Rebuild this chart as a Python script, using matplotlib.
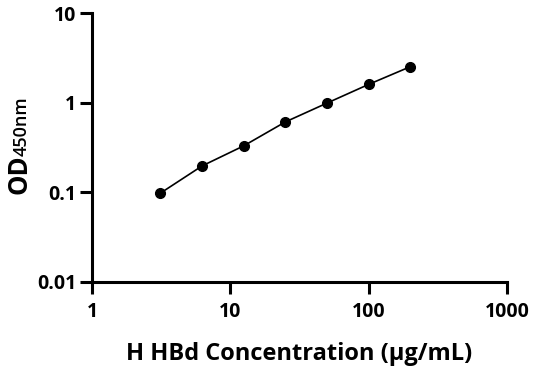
import matplotlib
matplotlib.use("Agg")
import matplotlib.pyplot as plt

# standard curve data
conc = [3.125, 6.25, 12.5, 25, 50, 100, 200]
od = [0.098, 0.197, 0.33, 0.61, 0.99, 1.6, 2.52]
x_ticks = [1, 10, 100, 1000]
y_ticks = [0.01, 0.1, 1, 10]
y_labels = ["0.01", "0.1", "1", "10"]

plt.rcParams["font.family"] = ["Open Sans", "DejaVu Sans"]
plt.rcParams["font.weight"] = "bold"

fig = plt.figure(figsize=(5.36, 3.71), dpi=100)
ax = fig.add_axes([0.1716, 0.2399, 0.7743, 0.725])

ax.plot(conc, od, color="black", lw=1.2, zorder=2)
ax.plot(conc, od, "o", color="black", ms=7, zorder=3, clip_on=False)

ax.set_xscale("log")
ax.set_yscale("log")
ax.set_xlim(1, 1000)
ax.set_ylim(0.01, 10)
ax.set_xticks(x_ticks)
ax.set_xticklabels([str(t) for t in x_ticks])
ax.set_yticks(y_ticks)
ax.set_yticklabels(y_labels)
ax.minorticks_off()

for s in ["top", "right"]:
    ax.spines[s].set_visible(False)
for s in ["left", "bottom"]:
    ax.spines[s].set_linewidth(2.2)
ax.tick_params(axis="both", length=8.5, width=2.2, labelsize=14)
ax.tick_params(axis="x", pad=6)
ax.tick_params(axis="y", pad=3)
for lab in ax.get_xticklabels() + ax.get_yticklabels():
    lab.set_fontweight("bold")

ax.set_xlabel("H HBd Concentration (μg/mL)", fontsize=17, fontweight="bold", labelpad=14)

# y label: "OD" bold plus a smaller "450nm"
od_txt = fig.text(0.049, 0.478, "OD", rotation=90, rotation_mode="anchor",
                  ha="left", va="baseline", fontsize=18.5, fontweight="bold")
fig.canvas.draw()
bb = od_txt.get_window_extent().transformed(fig.transFigure.inverted())
fig.text(0.049, bb.y1 - 0.004, "450nm", rotation=90, rotation_mode="anchor",
         ha="left", va="baseline", fontsize=13, fontweight=600)

fig.savefig("out.png", dpi=100)
